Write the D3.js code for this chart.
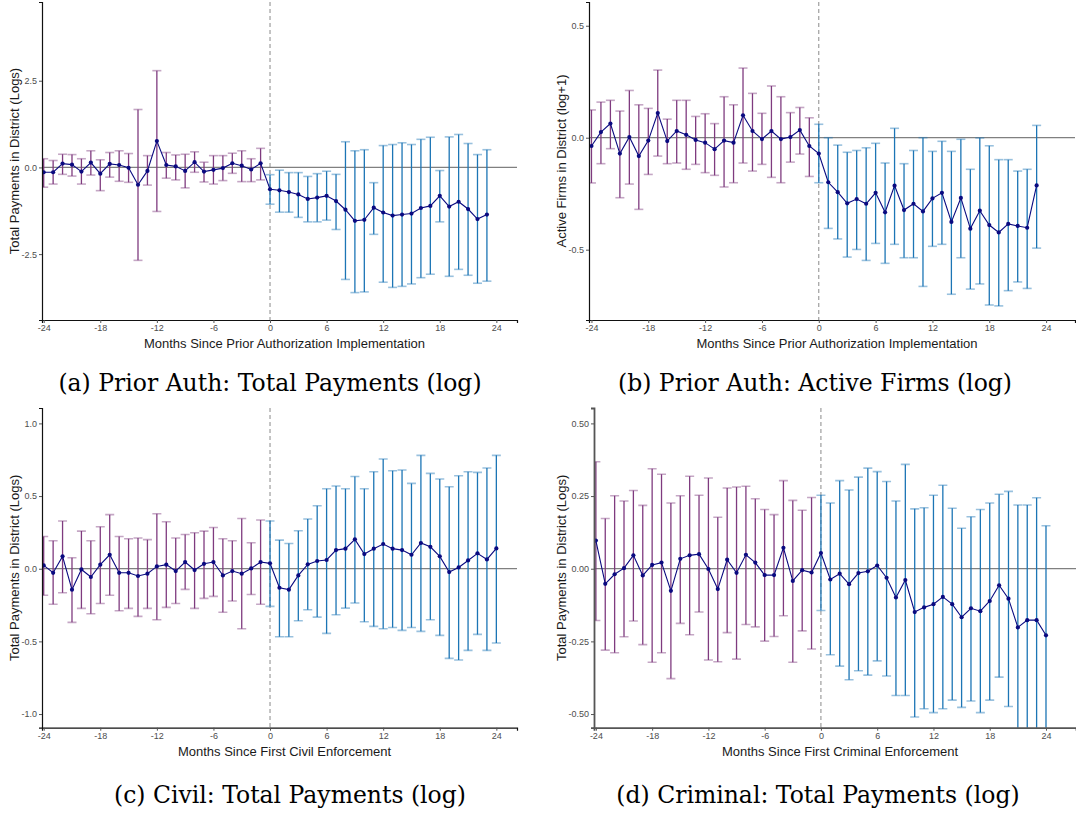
<!DOCTYPE html>
<html>
<head>
<meta charset="utf-8">
<script src="https://cdn.jsdelivr.net/npm/d3@7"></script>
<style>
  body { margin: 0; background: #fff; }
  svg { display: block; }
</style>
</head>
<body>
<script>
// event-study coefficients (months relative to event)
var monthsA = d3.range(-24, 24);
var coefA  = [-0.14,-0.14,0.11,0.08,-0.12,0.14,-0.18,0.10,0.07,-0.01,-0.50,-0.10,0.76,0.07,0.03,-0.10,0.15,-0.12,-0.07,-0.02,0.12,0.05,-0.06,0.12,
              -0.63,-0.66,-0.71,-0.78,-0.91,-0.87,-0.82,-0.97,-1.22,-1.54,-1.51,-1.16,-1.30,-1.39,-1.36,-1.33,-1.17,-1.11,-0.82,-1.13,-0.99,-1.20,-1.49,-1.36];
var upperA = [0.25,0.20,0.38,0.37,0.25,0.48,0.22,0.43,0.48,0.40,1.67,0.34,2.79,0.43,0.36,0.38,0.45,0.15,0.34,0.34,0.41,0.48,0.25,0.55,
              -0.21,-0.08,-0.15,-0.15,-0.26,-0.18,-0.11,-0.20,0.74,0.48,0.51,-0.44,0.63,0.66,0.71,0.66,0.81,0.87,-0.09,0.88,0.95,0.69,0.37,0.51];
var lowerA = [-0.57,-0.48,-0.20,-0.25,-0.48,-0.22,-0.67,-0.28,-0.40,-0.43,-2.68,-0.51,-1.27,-0.31,-0.36,-0.59,-0.14,-0.42,-0.48,-0.38,-0.17,-0.41,-0.41,-0.36,
              -1.06,-1.29,-1.29,-1.44,-1.57,-1.57,-1.52,-1.79,-3.23,-3.61,-3.59,-1.93,-3.31,-3.46,-3.43,-3.36,-3.18,-3.08,-1.57,-3.14,-2.94,-3.11,-3.34,-3.28];

var monthsB = d3.range(-24, 24);
var coefB  = [-0.037,0.025,0.063,-0.071,0.003,-0.082,-0.013,0.110,-0.015,0.030,0.013,-0.010,-0.022,-0.051,-0.013,-0.022,0.100,0.030,-0.006,0.030,-0.006,0.003,0.034,-0.037,
              -0.071,-0.199,-0.243,-0.293,-0.274,-0.295,-0.246,-0.333,-0.214,-0.323,-0.295,-0.329,-0.271,-0.246,-0.376,-0.269,-0.406,-0.326,-0.390,-0.423,-0.385,-0.394,-0.402,-0.213];
var upperB = [0.124,0.159,0.167,0.119,0.211,0.147,0.131,0.302,0.083,0.167,0.167,0.095,0.107,0.063,0.183,0.147,0.311,0.198,0.109,0.231,0.183,0.112,0.135,0.089,
              0.060,0.000,-0.033,-0.065,-0.057,-0.045,-0.025,-0.113,0.042,-0.116,-0.057,0.000,-0.061,-0.016,-0.061,-0.007,-0.141,-0.001,-0.036,-0.098,-0.098,-0.149,-0.141,0.055];
var lowerB = [-0.202,-0.116,-0.049,-0.268,-0.207,-0.320,-0.164,-0.082,-0.116,-0.113,-0.141,-0.119,-0.156,-0.168,-0.220,-0.201,-0.113,-0.149,-0.119,-0.177,-0.201,-0.109,-0.073,-0.173,
              -0.201,-0.405,-0.452,-0.533,-0.499,-0.548,-0.472,-0.561,-0.476,-0.536,-0.536,-0.664,-0.485,-0.476,-0.699,-0.536,-0.676,-0.653,-0.747,-0.751,-0.683,-0.644,-0.673,-0.493];

var monthsC = d3.range(-24, 25);
var coefC  = [0.023,-0.028,0.085,-0.144,-0.005,-0.057,0.028,0.096,-0.028,-0.028,-0.050,-0.034,0.016,0.028,-0.016,0.046,-0.009,0.034,0.046,-0.046,-0.016,-0.034,0.002,0.046,
              0.037,-0.131,-0.144,-0.046,0.030,0.053,0.060,0.128,0.138,0.202,0.101,0.138,0.170,0.138,0.128,0.096,0.177,0.151,0.085,-0.023,0.009,0.057,0.106,0.064,0.140];
var upperC = [0.222,0.193,0.328,0.076,0.259,0.193,0.289,0.372,0.222,0.206,0.211,0.200,0.378,0.323,0.211,0.236,0.248,0.259,0.284,0.206,0.193,0.346,0.179,0.335,
              0.328,0.197,0.174,0.261,0.342,0.433,0.550,0.569,0.550,0.635,0.550,0.667,0.755,0.674,0.679,0.587,0.780,0.656,0.617,0.564,0.640,0.667,0.663,0.693,0.780];
var lowerC = [-0.183,-0.245,-0.165,-0.369,-0.273,-0.310,-0.239,-0.183,-0.289,-0.273,-0.328,-0.273,-0.351,-0.266,-0.239,-0.142,-0.273,-0.204,-0.190,-0.300,-0.222,-0.413,-0.177,-0.245,
              -0.259,-0.468,-0.468,-0.358,-0.282,-0.333,-0.445,-0.317,-0.271,-0.236,-0.365,-0.397,-0.413,-0.404,-0.424,-0.404,-0.431,-0.351,-0.459,-0.617,-0.628,-0.562,-0.452,-0.562,-0.511];

var monthsD = d3.range(-24, 25);
var coefD  = [0.097,-0.052,-0.019,0.002,0.046,-0.023,0.013,0.021,-0.076,0.034,0.046,0.050,-0.001,-0.070,0.031,-0.014,0.048,0.021,-0.022,-0.022,0.072,-0.042,-0.005,-0.013,
              0.054,-0.037,-0.017,-0.053,-0.015,-0.009,0.011,-0.031,-0.099,-0.039,-0.149,-0.133,-0.122,-0.097,-0.122,-0.167,-0.136,-0.146,-0.111,-0.057,-0.103,-0.202,-0.177,-0.177,-0.229];
var upperD = [0.368,0.173,0.251,0.233,0.269,0.218,0.344,0.325,0.226,0.251,0.318,0.253,0.312,0.177,0.278,0.281,0.284,0.241,0.204,0.186,0.303,0.235,0.201,0.245,
              0.253,0.226,0.303,0.271,0.315,0.346,0.334,0.300,0.233,0.359,0.206,0.210,0.253,0.287,0.208,0.139,0.179,0.204,0.226,0.256,0.266,0.219,0.219,0.244,0.148];
var lowerD = [-0.178,-0.280,-0.289,-0.234,-0.180,-0.261,-0.322,-0.289,-0.378,-0.188,-0.227,-0.149,-0.314,-0.320,-0.220,-0.311,-0.192,-0.200,-0.249,-0.233,-0.162,-0.322,-0.214,-0.276,
              -0.144,-0.296,-0.335,-0.382,-0.351,-0.366,-0.317,-0.369,-0.436,-0.436,-0.510,-0.482,-0.495,-0.482,-0.452,-0.477,-0.455,-0.495,-0.452,-0.373,-0.474,-0.62,-0.62,-0.62,-0.64];

var xTicks = [-24, -18, -12, -6, 0, 6, 12, 18, 24];

var panels = [
  { id: "a", months: monthsA, coef: coefA, lo: lowerA, hi: upperA,
    left: 42, right: 517, top: 2, bottom: 320, xDom: [-24.18, 26.19], yDom: [-4.40, 4.77],
    yTicks: [-2.5, 0, 2.5], yFmt: ".1f", ylab: "Total Payments in District (Logs)", ylabX: 14,
    xlab: "Months Since Prior Authorization Implementation",
    caption: "(a) Prior Auth: Total Payments (log)", capX: 270, capY: 391 },
  { id: "b", months: monthsB, coef: coefB, lo: lowerB, hi: upperB,
    left: 589, right: 1075, top: 2, bottom: 320, xDom: [-24.26, 27.05], yDom: [-0.814, 0.606],
    yTicks: [-0.5, 0, 0.5], yFmt: ".1f", ylab: "Active Firms in District (log+1)", ylabX: 561,
    xlab: "Months Since Prior Authorization Implementation",
    caption: "(b) Prior Auth: Active Firms (log)", capX: 815, capY: 391 },
  { id: "c", months: monthsC, coef: coefC, lo: lowerC, hi: upperC,
    left: 42, right: 517, top: 408, bottom: 727.7, xDom: [-24.18, 26.19], yDom: [-1.094, 1.106],
    yTicks: [-1, -0.5, 0, 0.5, 1], yFmt: ".1f", ylab: "Total Payments in District (Logs)", ylabX: 14,
    xlab: "Months Since First Civil Enforcement",
    caption: "(c) Civil: Total Payments (log)", capX: 290, capY: 803 },
  { id: "d", months: monthsD, coef: coefD, lo: lowerD, hi: upperD,
    left: 594, right: 1076, top: 408, bottom: 727.7, xDom: [-24.2, 27.2], yDom: [-0.547, 0.553],
    yTicks: [-0.5, -0.25, 0, 0.25, 0.5], yFmt: ".2f", ylab: "Total Payments in District (Logs)", ylabX: 561,
    xlab: "Months Since First Criminal Enforcement",
    caption: "(d) Criminal: Total Payments (log)", capX: 818, capY: 803 }
];

var preColor = "#7f3b7f";
var postColor = "#1c75b5";
var lineColor = "#0a0a80";

var svg = d3.select("body").append("svg")
  .attr("width", 1076)
  .attr("height", 813);

// ggplot style hyphen minus
function fmt(spec) {
  var f = d3.format(spec);
  return function(d) { return f(d).replace("\u2212", "-"); };
}

panels.forEach(function(p) {
  var x = d3.scaleLinear().domain(p.xDom).range([p.left, p.right]);
  var y = d3.scaleLinear().domain(p.yDom).range([p.bottom, p.top]);

  var rows = p.months.map(function(m, i) {
    return { m: m, c: p.coef[i], lo: p.lo[i], hi: p.hi[i] };
  });

  svg.append("clipPath").attr("id", "clip-" + p.id)
    .append("rect")
    .attr("x", p.left).attr("y", p.top)
    .attr("width", p.right - p.left).attr("height", p.bottom - p.top);

  var g = svg.append("g").attr("clip-path", "url(#clip-" + p.id + ")");

  // reference lines
  g.append("line")
    .attr("x1", p.left).attr("x2", p.right)
    .attr("y1", y(0)).attr("y2", y(0))
    .attr("stroke", "#808080").attr("stroke-width", 1.2);
  g.append("line")
    .attr("x1", x(0)).attr("x2", x(0))
    .attr("y1", p.top).attr("y2", p.bottom)
    .attr("stroke", "#8a8a8a").attr("stroke-width", 1)
    .attr("stroke-dasharray", "4,3");

  // error bars
  var bars = g.selectAll(".bar").data(rows).enter().append("g");
  bars.append("line")
    .attr("x1", d => x(d.m)).attr("x2", d => x(d.m))
    .attr("y1", d => y(d.hi)).attr("y2", d => y(d.lo))
    .attr("stroke", d => d.m < 0 ? preColor : postColor)
    .attr("stroke-width", 1.3);
  ["hi", "lo"].forEach(function(k) {
    bars.append("line")
      .attr("x1", d => x(d.m) - 4.5).attr("x2", d => x(d.m) + 4.5)
      .attr("y1", d => y(d[k])).attr("y2", d => y(d[k]))
      .attr("stroke", d => d.m < 0 ? preColor : postColor)
      .attr("stroke-opacity", 0.45)
      .attr("stroke-width", 1.6);
  });

  // coefficient line and points
  var line = d3.line().x(d => x(d.m)).y(d => y(d.c));
  g.append("path")
    .datum(rows)
    .attr("d", line)
    .attr("fill", "none")
    .attr("stroke", lineColor)
    .attr("stroke-width", 1.1);
  g.selectAll(".pt").data(rows).enter().append("circle")
    .attr("cx", d => x(d.m)).attr("cy", d => y(d.c))
    .attr("r", 2.1)
    .attr("fill", lineColor);

  // axes
  var xAxis = d3.axisBottom(x).tickValues(xTicks).tickSize(3).tickPadding(2).tickFormat(fmt("d"));
  var yAxis = d3.axisLeft(y).tickValues(p.yTicks).tickSize(3).tickPadding(2).tickFormat(fmt(p.yFmt));

  var gx = svg.append("g").attr("transform", "translate(0," + p.bottom + ")").call(xAxis);
  var gy = svg.append("g").attr("transform", "translate(" + p.left + ",0)").call(yAxis);
  [gx, gy].forEach(function(ax) {
    ax.select(".domain").attr("stroke", p.id === "d" ? "#555" : "#111").attr("stroke-width", p.id === "d" ? 1.8 : 1.2);
    ax.selectAll(".tick line").attr("stroke", "#555");
    ax.selectAll(".tick text")
      .attr("fill", "#4d4d4d")
      .style("font-family", "Liberation Sans, Arial, sans-serif")
      .style("font-size", "9px");
  });

  svg.append("text")
    .attr("x", (p.left + p.right) / 2 + 5)
    .attr("y", p.bottom + 28)
    .attr("text-anchor", "middle")
    .style("font-family", "Liberation Sans, Arial, sans-serif")
    .style("font-size", "13px")
    .attr("fill", "#1a1a1a")
    .text(p.xlab);

  svg.append("text")
    .attr("transform", "translate(" + p.ylabX + "," + ((p.top + p.bottom) / 2) + ") rotate(-90)")
    .attr("text-anchor", "middle")
    .attr("dy", "0.35em")
    .style("font-family", "Liberation Sans, Arial, sans-serif")
    .style("font-size", "13px")
    .attr("fill", "#1a1a1a")
    .text(p.ylab);

  svg.append("text")
    .attr("x", p.capX)
    .attr("y", p.capY)
    .attr("text-anchor", "middle")
    .style("font-family", "DejaVu Serif, serif")
    .style("font-size", "23.5px")
    .attr("fill", "#000")
    .text(p.caption);
});
</script>
</body>
</html>
